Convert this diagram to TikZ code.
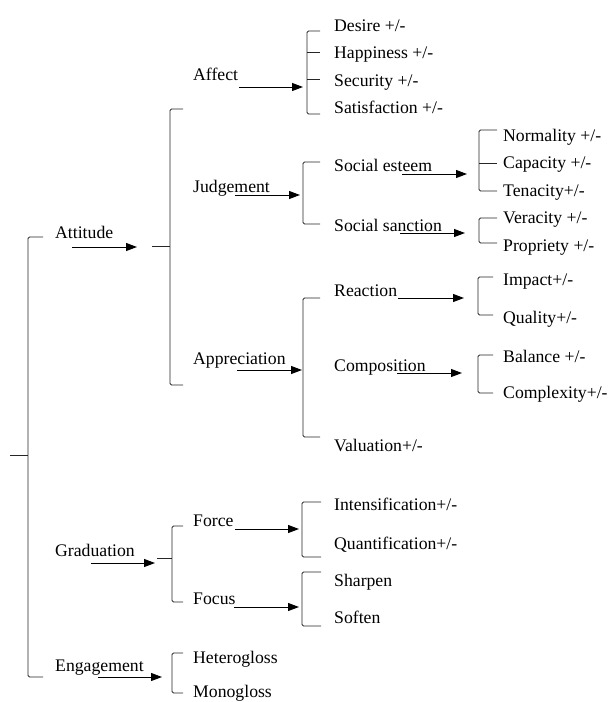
\documentclass[tikz,border=0pt]{standalone}
\usepackage{fontspec}
\setmainfont{Liberation Serif}
\usetikzlibrary{arrows.meta}

\tikzset{
  lbl/.style={anchor=base west, inner sep=0pt, font=\fontsize{17.7}{20}\selectfont},
  brk/.style={line width=0.9pt, color=black!85, rounded corners=1.5pt},
  arr/.style={line width=1pt, color=black, -{Triangle[length=11pt,width=8pt]}},
}

\begin{document}
\begin{tikzpicture}[x=1pt,y=1pt,yscale=-1,xscale=1]
        \useasboundingbox (0,0) rectangle (608,702);

        % brackets
        \draw [brk]  (43,237) -- (28,237) -- (28,677) -- (43,677) ;
        \draw [brk]  (10,455) -- (28,455) ;
        \draw [brk]  (183,109) -- (170,109) -- (170,385) -- (183,385) ;
        \draw [brk]  (152,246) -- (170,246) ;
        \draw [brk]  (320,31) -- (307,31) -- (307,114) -- (320,114) ;
        \draw [brk]  (307,52) -- (320,52) ;
        \draw [brk]  (307,79) -- (320,79) ;
        \draw [brk]  (320,162) -- (303,162) -- (303,224) -- (320,224) ;
        \draw [brk]  (497,130) -- (479,130) -- (479,191) -- (497,191) ;
        \draw [brk]  (479,163) -- (497,163) ;
        \draw [brk]  (497,218) -- (479,218) -- (479,243) -- (497,243) ;
        \draw [brk]  (320,298) -- (303,298) -- (303,437) -- (320,437) ;
        \draw [brk]  (493,277) -- (478,277) -- (478,315) -- (493,315) ;
        \draw [brk]  (493,355) -- (478,355) -- (478,393) -- (493,393) ;
        \draw [brk]  (183,526) -- (172,526) -- (172,602) -- (183,602) ;
        \draw [brk]  (157,558) -- (172,558) ;
        \draw [brk]  (321,502) -- (302,502) -- (302,557) -- (321,557) ;
        \draw [brk]  (321,572) -- (302,572) -- (302,626) -- (321,626) ;
        \draw [brk]  (183,653) -- (172,653) -- (172,693) -- (183,693) ;

        % arrow ends
        \coordinate (attitude-a) at (72,247) ;   \coordinate (attitude-b) at (137,247) ;
        \coordinate (affect-a) at (239,87) ;     \coordinate (affect-b) at (303,87) ;
        \coordinate (judge-a) at (235,195) ;     \coordinate (judge-b) at (300,195) ;
        \coordinate (esteem-a) at (402,174) ;    \coordinate (esteem-b) at (467,174) ;
        \coordinate (sanction-a) at (400,233) ;  \coordinate (sanction-b) at (465,233) ;
        \coordinate (apprec-a) at (237,370) ;    \coordinate (apprec-b) at (302,370) ;
        \coordinate (react-a) at (398,298) ;     \coordinate (react-b) at (464,298) ;
        \coordinate (compo-a) at (397,373) ;     \coordinate (compo-b) at (462,373) ;
        \coordinate (grad-a) at (91,563) ;       \coordinate (grad-b) at (155,563) ;
        \coordinate (force-a) at (235,529) ;     \coordinate (force-b) at (299,529) ;
        \coordinate (focus-a) at (234,607) ;     \coordinate (focus-b) at (299,607) ;
        \coordinate (engage-a) at (98,677) ;     \coordinate (engage-b) at (162,677) ;

        \draw [arr]  (attitude-a) -- (attitude-b) ;
        \draw [arr]  (affect-a) -- (affect-b) ;
        \draw [arr]  (judge-a) -- (judge-b) ;
        \draw [arr]  (esteem-a) -- (esteem-b) ;
        \draw [arr]  (sanction-a) -- (sanction-b) ;
        \draw [arr]  (apprec-a) -- (apprec-b) ;
        \draw [arr]  (react-a) -- (react-b) ;
        \draw [arr]  (compo-a) -- (compo-b) ;
        \draw [arr]  (grad-a) -- (grad-b) ;
        \draw [arr]  (force-a) -- (force-b) ;
        \draw [arr]  (focus-a) -- (focus-b) ;
        \draw [arr]  (engage-a) -- (engage-b) ;

        % labels
        \draw (55,238) node [lbl] (attitude) {Attitude};
        \draw (55,556) node [lbl] (graduation) {Graduation};
        \draw (55,671) node [lbl] (engagement) {Engagement};

        \draw (193,80) node [lbl] (affect) {Affect};
        \draw (193,192) node [lbl] (judgement) {Judgement};
        \draw (193,364) node [lbl] (appreciation) {Appreciation};
        \draw (193,526) node [lbl] (force) {Force};
        \draw (193,604) node [lbl] (focus) {Focus};
        \draw (193,663) node [lbl] (hetero) {Heterogloss};
        \draw (193,697) node [lbl] (mono) {Monogloss};

        \draw (334,31) node [lbl] (desire) {Desire +/-};
        \draw (334,58) node [lbl] (happiness) {Happiness +/-};
        \draw (334,86) node [lbl] (security) {Security +/-};
        \draw (334,113) node [lbl] (satisfaction) {Satisfaction +/-};
        \draw (334,171) node [lbl] (esteem) {Social esteem};
        \draw (334,231) node [lbl] (sanction) {Social sanction};
        \draw (334,296) node [lbl] (reaction) {Reaction};
        \draw (334,371) node [lbl] (composition) {Composition};
        \draw (334,451) node [lbl] (valuation) {Valuation+/-};
        \draw (334,510) node [lbl] (intens) {Intensification+/-};
        \draw (334,549) node [lbl] (quant) {Quantification+/-};
        \draw (334,586) node [lbl] (sharpen) {Sharpen};
        \draw (334,623) node [lbl] (soften) {Soften};

        \draw (503,141) node [lbl] (normality) {Normality +/-};
        \draw (503,168) node [lbl] (capacity) {Capacity +/-};
        \draw (503,196) node [lbl] (tenacity) {Tenacity+/-};
        \draw (503,223) node [lbl] (veracity) {Veracity +/-};
        \draw (503,251) node [lbl] (propriety) {Propriety +/-};
        \draw (503,285) node [lbl] (impact) {Impact+/-};
        \draw (503,323) node [lbl] (quality) {Quality+/-};
        \draw (503,362) node [lbl] (balance) {Balance +/-};
        \draw (503,398) node [lbl] (complexity) {Complexity+/-};
    \end{tikzpicture}
\end{document}
